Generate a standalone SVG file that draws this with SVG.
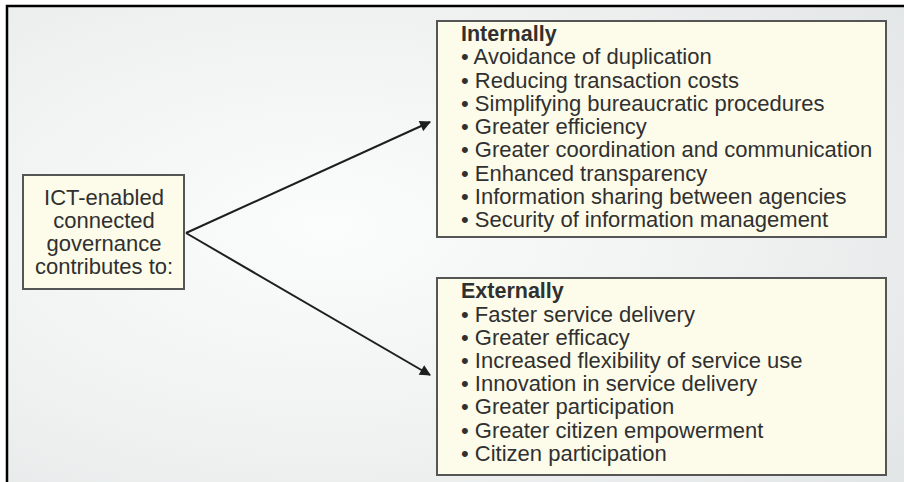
<svg xmlns="http://www.w3.org/2000/svg" width="904" height="482" viewBox="0 0 904 482">
<defs>
<radialGradient id="bg" cx="0.35" cy="0.45" r="0.8">
<stop offset="0" stop-color="#fbfcfc"/>
<stop offset="0.55" stop-color="#f0f2f2"/>
<stop offset="1" stop-color="#e3e6e6"/>
</radialGradient>
<marker id="ah" viewBox="0 0 10 10" refX="9" refY="5" markerWidth="12" markerHeight="11" markerUnits="userSpaceOnUse" orient="auto">
<path d="M0,0 L10,5 L0,10 z" fill="#1e1e1e"/>
</marker>
</defs>
<style>
.box{fill:#fdfcea;stroke:#555;stroke-width:2}
.t{font-family:"Liberation Sans",Arial,sans-serif;fill:#303030}
.h{font-weight:bold;font-size:21.5px}
.i{font-size:22px}
.c{font-size:22px;text-anchor:middle}
.conn{stroke:#1e1e1e;stroke-width:2;fill:none;marker-end:url(#ah)}
</style>
<rect x="0" y="0" width="904" height="482" fill="#ffffff"/>
<rect x="7" y="6" width="910" height="490" fill="url(#bg)" stroke="#000" stroke-width="2.5"/>
<g id="connectors">
<line class="conn" x1="186" y1="233" x2="430" y2="122"/>
<line class="conn" x1="186" y1="233" x2="430" y2="375"/>
</g>
<g id="source">
<rect class="box" x="23" y="175" width="161" height="114"/>
<text class="t c" x="104" y="205">ICT-enabled</text>
<text class="t c" x="104" y="228">connected</text>
<text class="t c" x="104" y="251">governance</text>
<text class="t c" x="104" y="274">contributes to:</text>
</g>
<g id="internally">
<rect class="box" x="437" y="21" width="449" height="216"/>
<text class="t h" x="461" y="41">Internally</text>
<text class="t i" x="461" y="64.3">• Avoidance of duplication</text>
<text class="t i" x="461" y="87.5">• Reducing transaction costs</text>
<text class="t i" x="461" y="110.8">• Simplifying bureaucratic procedures</text>
<text class="t i" x="461" y="134">• Greater efficiency</text>
<text class="t i" x="461" y="157.3">• Greater coordination and communication</text>
<text class="t i" x="461" y="180.5">• Enhanced transparency</text>
<text class="t i" x="461" y="203.8">• Information sharing between agencies</text>
<text class="t i" x="461" y="227">• Security of information management</text>
</g>
<g id="externally">
<rect class="box" x="437" y="278" width="449" height="197"/>
<text class="t h" x="461" y="298.4">Externally</text>
<text class="t i" x="461" y="321.6">• Faster service delivery</text>
<text class="t i" x="461" y="344.8">• Greater efficacy</text>
<text class="t i" x="461" y="368">• Increased flexibility of service use</text>
<text class="t i" x="461" y="391.2">• Innovation in service delivery</text>
<text class="t i" x="461" y="414.4">• Greater participation</text>
<text class="t i" x="461" y="437.6">• Greater citizen empowerment</text>
<text class="t i" x="461" y="461">• Citizen participation</text>
</g>
</svg>
